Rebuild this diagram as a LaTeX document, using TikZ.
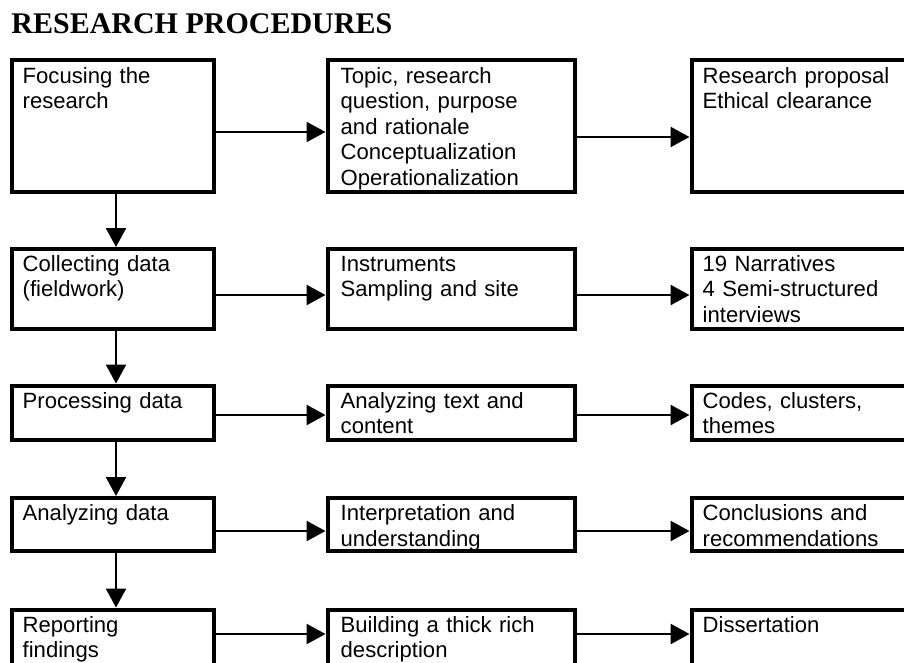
\documentclass[tikz,border=0pt]{standalone}
\usepackage{fontspec}
\setmainfont{Liberation Serif}
\newfontfamily\boxfont{Liberation Sans}
\usetikzlibrary{arrows.meta,calc}
\begin{document}
\begin{tikzpicture}[x=1pt,y=-1pt,
  box/.style={draw,line width=4pt,inner sep=0pt},
  txt/.style={anchor=base west,inner sep=0pt,text width=240pt,align=left,
    font=\boxfont\fontsize{22.1}{25.5}\selectfont},
  arr/.style={line width=2.5pt,-{Triangle[length=19pt,width=20pt]}},
  c1/.style={minimum width=202.5pt},
  c2/.style={minimum width=247pt},
  c3/.style={minimum width=248.5pt}]
\useasboundingbox (0,0) rectangle (904,662);
\clip (0,0) rectangle (904,662);
\node[anchor=base west,inner sep=0pt,font=\bfseries\fontsize{30}{30}\selectfont] (title) at (11.2,33.3) {RESEARCH PROCEDURES};
% row 1
\node[box,c1,minimum height=132.5pt] (a1) at (112.75,125.75) {};
\node[box,c2,minimum height=132.5pt] (a2) at (451,125.75) {};
\node[box,c3,minimum height=132.5pt] (a3) at (815.75,125.75) {};
% row 2
\node[box,c1,minimum height=80pt] (b1) at (112.75,289) {};
\node[box,c2,minimum height=80pt] (b2) at (451,289) {};
\node[box,c3,minimum height=80pt] (b3) at (815.75,289) {};
% row 3
\node[box,c1,minimum height=54.5pt] (d1) at (112.75,412.75) {};
\node[box,c2,minimum height=54.5pt] (d2) at (451,412.75) {};
\node[box,c3,minimum height=54.5pt] (d3) at (815.75,412.75) {};
% row 4
\node[box,c1,minimum height=53pt] (e1) at (112.75,524.5) {};
\node[box,c2,minimum height=53pt] (e2) at (451,524.5) {};
\node[box,c3,minimum height=53pt] (e3) at (815.75,524.5) {};
% row 5
\node[box,c1,minimum height=100.5pt] (f1) at (112.75,659.75) {};
\node[box,c2,minimum height=100.5pt] (f2) at (451,659.75) {};
\node[box,c3,minimum height=100.5pt] (f3) at (815.75,659.75) {};
% texts
\node[txt] (ta1) at (22.5,83) {Focusing the\\research};
\node[txt] (ta2) at (340.5,83) {Topic, research\\question, purpose\\and rationale\\Conceptualization\\Operationalization};
\node[txt] (ta3) at (702.5,83) {Research proposal\\Ethical clearance};
\node[txt] (tb1) at (22.5,271) {Collecting data\\(fieldwork)};
\node[txt] (tb2) at (340.5,271) {Instruments\\Sampling and site};
\node[txt] (tb3) at (702.5,271) {19 Narratives\\4 Semi-structured\\interviews};
\node[txt] (td1) at (22.5,408) {Processing data};
\node[txt] (td2) at (340.5,408) {Analyzing text and\\content};
\node[txt] (td3) at (702.5,408) {Codes, clusters,\\themes};
\node[txt] (te1) at (22.5,520.5) {Analyzing data};
\node[txt] (te2) at (340.5,520.5) {Interpretation and\\understanding};
\node[txt] (te3) at (702.5,520.5) {Conclusions and\\recommendations};
\node[txt] (tf1) at (22.5,632) {Reporting\\findings};
\node[txt] (tf2) at (340.5,632) {Building a thick rich\\description};
\node[txt] (tf3) at (702.5,632) {Dissertation};
% vertical arrows
\draw[arr] (a1.south -| 116,0) -- (b1.north -| 116,0);
\draw[arr] (b1.south -| 116,0) -- (d1.north -| 116,0);
\draw[arr] (d1.south -| 116,0) -- (e1.north -| 116,0);
\draw[arr] (e1.south -| 116,0) -- (f1.north -| 116,0);
% horizontal arrows
\draw[arr] (a1.east |- 0,132) -- (a2.west |- 0,132);
\draw[arr] (a2.east |- 0,137) -- (a3.west |- 0,137);
\draw[arr] (b1.east |- 0,295) -- (b2.west |- 0,295);
\draw[arr] (b2.east |- 0,295) -- (b3.west |- 0,295);
\draw[arr] (d1.east |- 0,415) -- (d2.west |- 0,415);
\draw[arr] (d2.east |- 0,415) -- (d3.west |- 0,415);
\draw[arr] (e1.east |- 0,531) -- (e2.west |- 0,531);
\draw[arr] (e2.east |- 0,531) -- (e3.west |- 0,531);
\draw[arr] (f1.east |- 0,634) -- (f2.west |- 0,634);
\draw[arr] (f2.east |- 0,634) -- (f3.west |- 0,634);
\end{tikzpicture}
\end{document}
